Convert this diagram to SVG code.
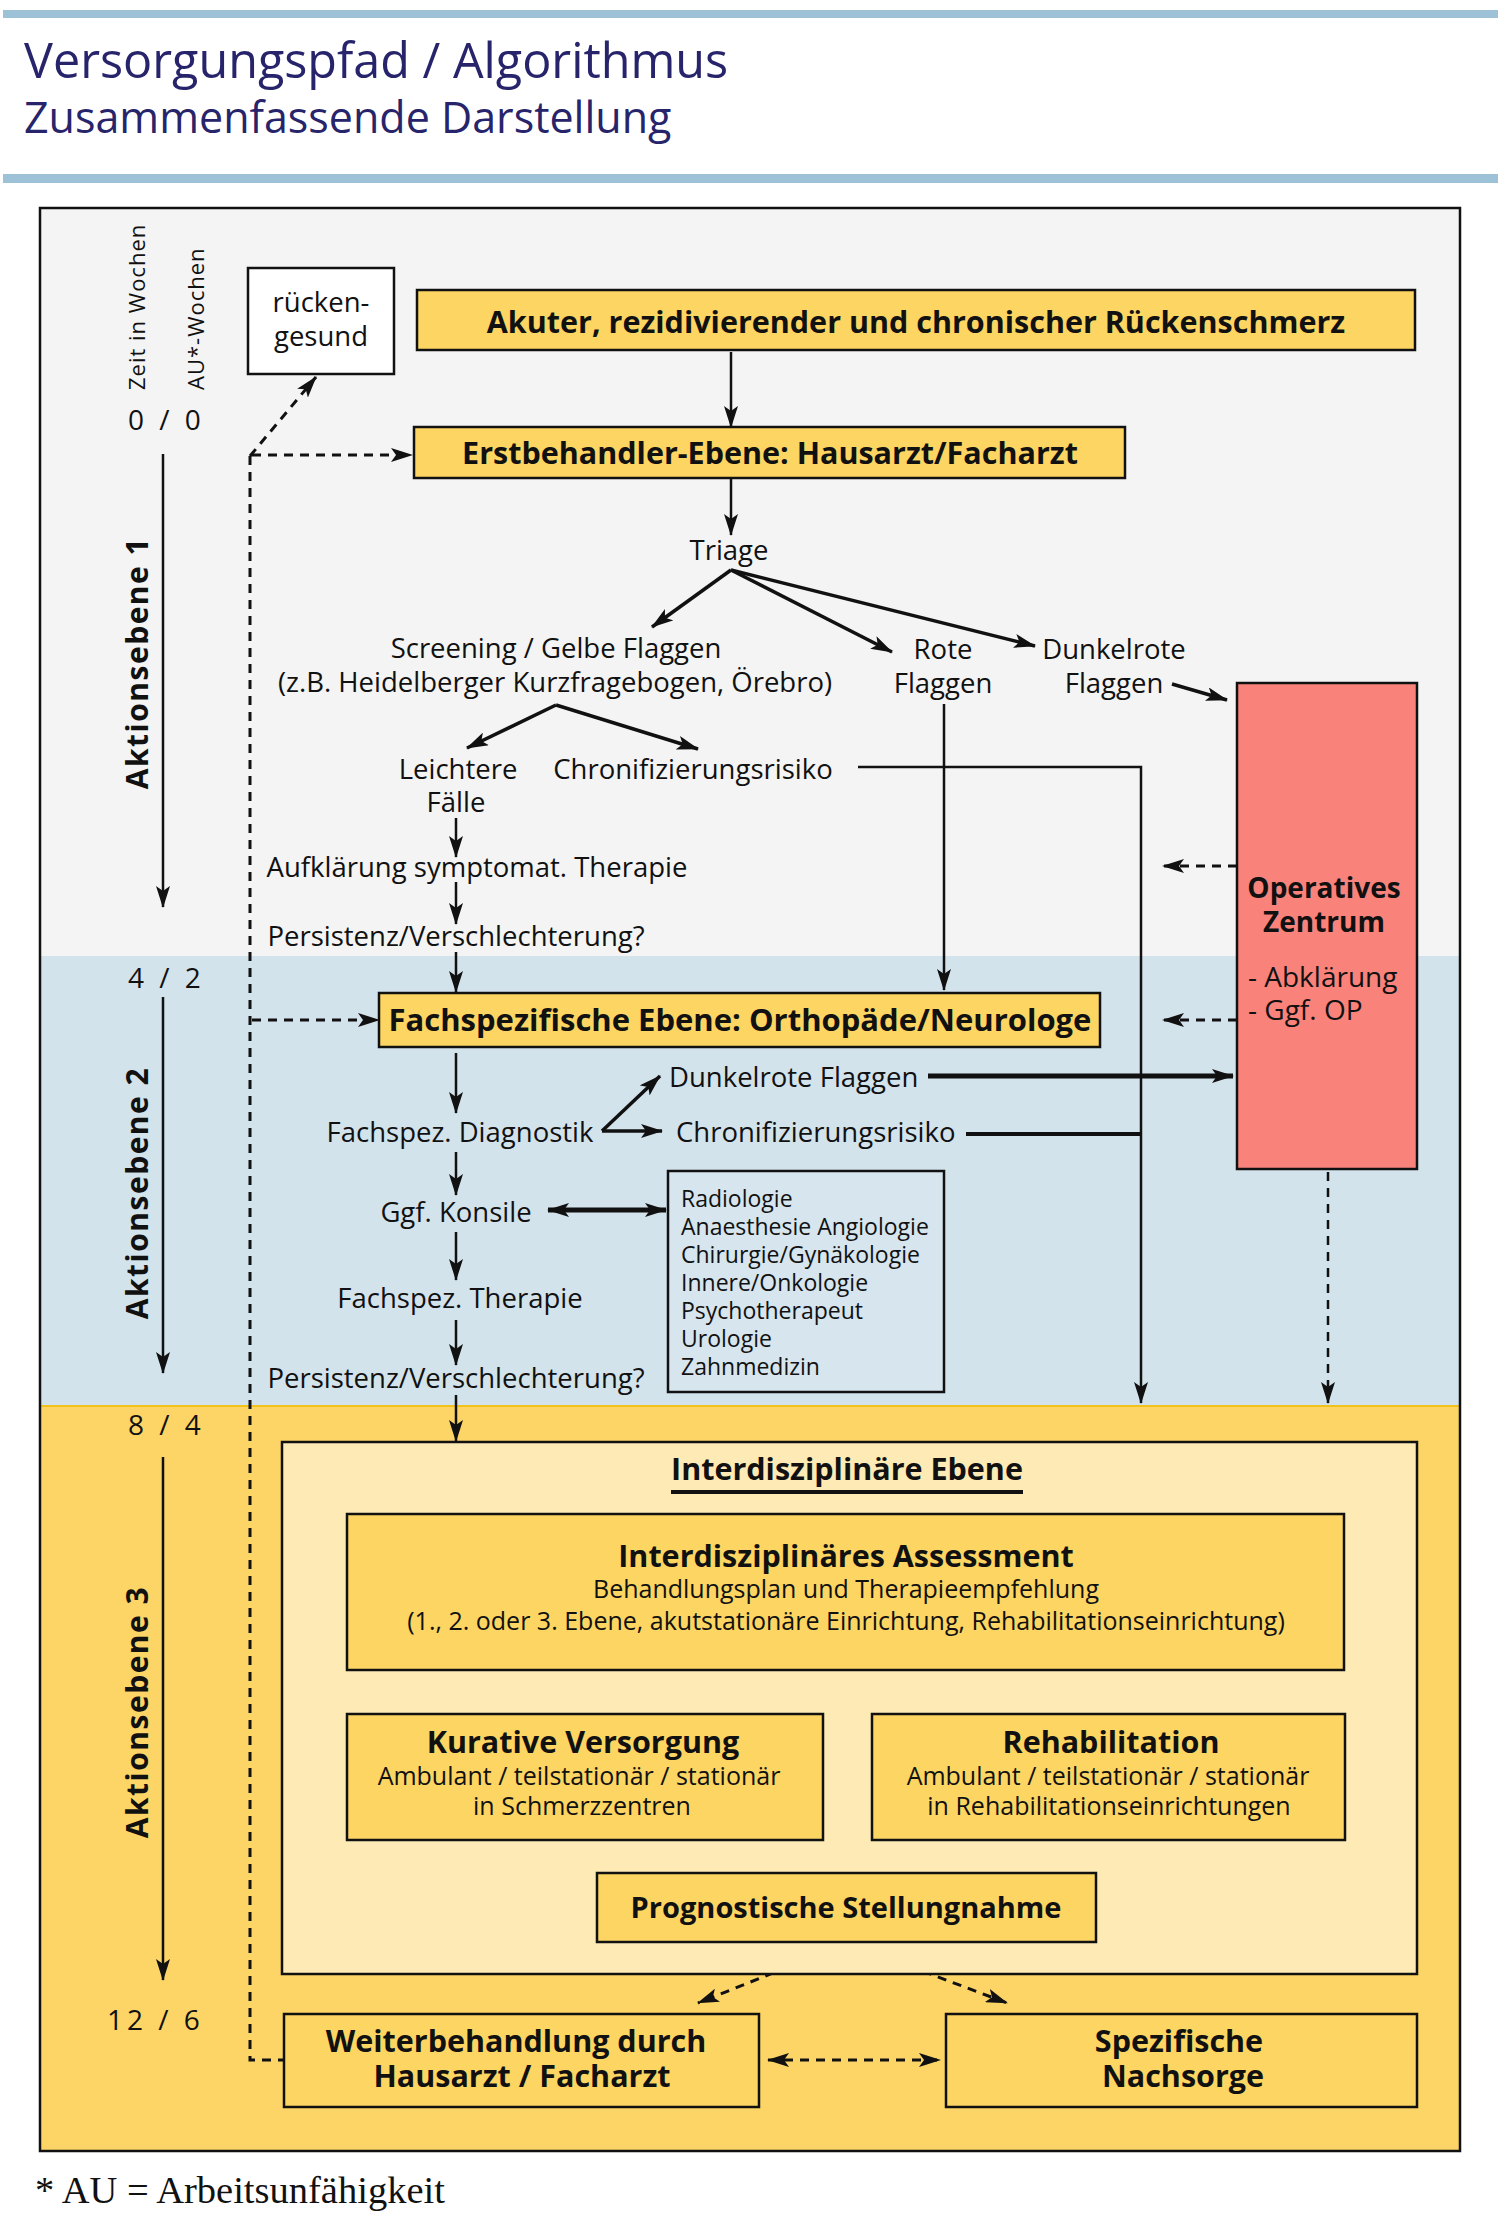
<svg xmlns="http://www.w3.org/2000/svg" width="1500" height="2219" viewBox="0 0 1500 2219">
<defs>
<style>
text{font-family:"Open Sans","Noto Sans",sans-serif;fill:#111}
.r{font-size:27.5px}
.i{font-size:25px}
.b{font-size:30.5px;font-weight:bold}
.s{font-size:23px}
.n{font-size:28px;letter-spacing:4px}
.ax{font-size:30px;font-weight:bold;letter-spacing:1.5px}
.v{font-size:22px;letter-spacing:1px}
.box{stroke:#111;stroke-width:2.5}
.y{fill:#FCD562}
.ln{fill:none;stroke:#111;stroke-width:2.5}
.th{fill:none;stroke:#111;stroke-width:3.5}
.dz{fill:none;stroke:#111;stroke-width:3;stroke-dasharray:9 7}
</style>
<marker id="a" markerWidth="22" markerHeight="14" refX="21" refY="7" orient="auto" markerUnits="userSpaceOnUse"><path d="M0,0 L22,7 L0,14 L5,7 z" fill="#111"/></marker>
<marker id="as" markerWidth="22" markerHeight="14" refX="21" refY="7" orient="auto-start-reverse" markerUnits="userSpaceOnUse"><path d="M0,0 L22,7 L0,14 L5,7 z" fill="#111"/></marker>
</defs>
<rect x="0" y="0" width="1500" height="2219" fill="#fff"/>
<g id="header">
<rect x="3" y="10" width="1495" height="8" fill="#9DC1D6"/>
<rect x="3" y="174" width="1495" height="9" fill="#9DC1D6"/>
<text x="24" y="78" style="font-size:48.5px;fill:#27246B;font-weight:500">Versorgungspfad / Algorithmus</text>
<text x="24" y="133" style="font-size:43px;fill:#27246B">Zusammenfassende Darstellung</text>
</g>
<g id="background">
<rect x="40" y="208" width="1420" height="748" fill="#F4F4F4"/>
<rect x="40" y="956" width="1420" height="449" fill="#D3E3EC"/>
<rect x="40" y="1405" width="1420" height="746" fill="#FDD566"/>
<line x1="40" y1="1406" x2="1460" y2="1406" stroke="#F2C21C" stroke-width="2"/>
<rect x="40" y="208" width="1420" height="1943" fill="none" stroke="#111" stroke-width="2.5"/>
</g>
<g id="timeline">
<text class="v" transform="translate(145,390) rotate(-90)">Zeit in Wochen</text>
<text class="v" transform="translate(204,390) rotate(-90)">AU*-Wochen</text>
<text class="n" x="128" y="430">0 / 0</text>
<text class="n" x="128" y="988">4 / 2</text>
<text class="n" x="128" y="1435">8 / 4</text>
<text class="n" x="107" y="2030">12 / 6</text>
<text class="ax" text-anchor="middle" transform="translate(148,663) rotate(-90)">Aktionsebene 1</text>
<text class="ax" text-anchor="middle" transform="translate(148,1193) rotate(-90)">Aktionsebene 2</text>
<text class="ax" text-anchor="middle" transform="translate(148,1712) rotate(-90)">Aktionsebene 3</text>
</g>
<g id="connectors">
<path class="ln" d="M163,454 V907" marker-end="url(#a)"/>
<path class="ln" d="M163,997 V1373" marker-end="url(#a)"/>
<path class="ln" d="M163,1457 V1980" marker-end="url(#a)"/>
<path class="ln" d="M731,352 V427" marker-end="url(#a)"/>
<path class="ln" d="M731,479 V535" marker-end="url(#a)"/>
<path class="th" d="M731,570 L652,627" marker-end="url(#a)"/>
<path class="th" d="M731,570 L892,652" marker-end="url(#a)"/>
<path class="th" d="M731,570 L1035,646" marker-end="url(#a)"/>
<path class="th" d="M1172,684 L1227,700" marker-end="url(#a)"/>
<path class="th" d="M556,705 L467,748" marker-end="url(#a)"/>
<path class="th" d="M556,705 L698,749" marker-end="url(#a)"/>
<path class="ln" d="M456,818 V857" marker-end="url(#a)"/>
<path class="ln" d="M456,882 V924" marker-end="url(#a)"/>
<path class="ln" d="M456,952 V992" marker-end="url(#a)"/>
<path class="ln" d="M944,704 V990" marker-end="url(#a)"/>
<path class="ln" d="M858,767 H1141 V1403" marker-end="url(#a)"/>
<path class="dz" d="M1237,866 H1163" marker-end="url(#a)"/>
<path class="dz" d="M1237,1020 H1163" marker-end="url(#a)"/>
<path class="dz" d="M252,455 H412" marker-end="url(#a)"/>
<path class="dz" d="M252,1020 H379" marker-end="url(#a)"/>
<path class="dz" d="M250,456 V2060 H284"/>
<path class="dz" d="M250,456 L316,377" marker-end="url(#a)"/>
<path class="ln" d="M456,1053 V1113" marker-end="url(#a)"/>
<path class="th" d="M602,1131 L660,1076" marker-end="url(#a)"/>
<path class="th" d="M602,1131 H662" marker-end="url(#a)"/>
<path fill="none" stroke="#111" stroke-width="5" d="M928,1076 H1233" marker-end="url(#a)"/>
<path fill="none" stroke="#111" stroke-width="4" d="M966,1134 H1141"/>
<path class="ln" d="M456,1152 V1195" marker-end="url(#a)"/>
<path fill="none" stroke="#111" stroke-width="5" d="M548,1210 H666" marker-start="url(#as)" marker-end="url(#as)"/>
<path class="ln" d="M456,1232 V1280" marker-end="url(#a)"/>
<path class="ln" d="M456,1320 V1365" marker-end="url(#a)"/>
<path class="ln" d="M456,1395 V1441" marker-end="url(#a)"/>
<path class="dz" d="M1328,1172 V1403" marker-end="url(#a)" style="stroke-width:2.5"/>
<path class="th" d="M847,1672 L642,1713" marker-end="url(#a)"/>
<path class="th" d="M847,1672 L1055,1713" marker-end="url(#a)"/>
<path class="dz" d="M688,1840 L753,1873" marker-end="url(#a)"/>
<path class="dz" d="M1000,1840 L935,1873" marker-end="url(#a)"/>
<path class="dz" d="M848,1943 L698,2003" marker-end="url(#a)"/>
<path class="dz" d="M848,1943 L1007,2003" marker-end="url(#a)"/>
<path class="dz" d="M768,2060 H940" marker-start="url(#as)" marker-end="url(#as)"/>
</g>
<g id="n-ruecken">
<rect class="box" x="248" y="268" width="146" height="106" fill="#fff"/>
<text class="r" x="321" y="312" text-anchor="middle">rücken-</text>
<text class="r" x="321" y="346" text-anchor="middle">gesund</text>
</g>
<g id="n-akuter">
<rect class="box y" x="417" y="290" width="998" height="60"/>
<text class="b" x="916" y="333" text-anchor="middle">Akuter, rezidivierender und chronischer Rückenschmerz</text>
</g>
<g id="n-erst">
<rect class="box y" x="414" y="427" width="711" height="51"/>
<text class="b" x="770" y="464" text-anchor="middle">Erstbehandler-Ebene: Hausarzt/Facharzt</text>
</g>
<g id="n-triage"><text class="r" x="729" y="560" text-anchor="middle">Triage</text></g>
<g id="n-screening">
<text class="r" x="556" y="658" text-anchor="middle">Screening / Gelbe Flaggen</text>
<text class="r" x="555" y="692" text-anchor="middle">(z.B. Heidelberger Kurzfragebogen, Örebro)</text>
</g>
<g id="n-rote">
<text class="r" x="943" y="659" text-anchor="middle">Rote</text>
<text class="r" x="943" y="693" text-anchor="middle">Flaggen</text>
</g>
<g id="n-dunkelrote1">
<text class="r" x="1114" y="659" text-anchor="middle">Dunkelrote</text>
<text class="r" x="1114" y="693" text-anchor="middle">Flaggen</text>
</g>
<g id="n-leichtere">
<text class="r" x="458" y="779" text-anchor="middle">Leichtere</text>
<text class="r" x="456" y="812" text-anchor="middle">Fälle</text>
</g>
<g id="n-chron1"><text class="r" x="693" y="779" text-anchor="middle">Chronifizierungsrisiko</text></g>
<g id="n-aufkl"><text class="r" x="477" y="877" text-anchor="middle">Aufklärung symptomat. Therapie</text></g>
<g id="n-pers1"><text class="r" x="456" y="946" text-anchor="middle">Persistenz/Verschlechterung?</text></g>
<g id="n-op">
<rect class="box" x="1237" y="683" width="180" height="486" fill="#F9837B"/>
<text class="b" x="1324" y="898" text-anchor="middle" style="font-size:28px">Operatives</text>
<text class="b" x="1324" y="932" text-anchor="middle" style="font-size:28px">Zentrum</text>
<text class="r" x="1248" y="987" style="font-size:28px">- Abklärung</text>
<text class="r" x="1248" y="1020" style="font-size:28px">- Ggf. OP</text>
</g>
<g id="n-fach">
<rect class="box y" x="379" y="993" width="721" height="54"/>
<text class="b" x="740" y="1031" text-anchor="middle" style="font-size:31px">Fachspezifische Ebene: Orthopäde/Neurologe</text>
</g>
<g id="n-dunkelrote2"><text class="r" x="669" y="1087">Dunkelrote Flaggen</text></g>
<g id="n-diag"><text class="r" x="460" y="1142" text-anchor="middle">Fachspez. Diagnostik</text></g>
<g id="n-chron2"><text class="r" x="676" y="1142">Chronifizierungsrisiko</text></g>
<g id="n-konsile"><text class="r" x="456" y="1222" text-anchor="middle">Ggf. Konsile</text></g>
<g id="n-liste">
<rect class="box" x="668" y="1171" width="276" height="221" fill="#D6E5EE"/>
<text class="s" x="681" y="1207">Radiologie</text>
<text class="s" x="681" y="1235">Anaesthesie Angiologie</text>
<text class="s" x="681" y="1263">Chirurgie/Gynäkologie</text>
<text class="s" x="681" y="1291">Innere/Onkologie</text>
<text class="s" x="681" y="1319">Psychotherapeut</text>
<text class="s" x="681" y="1347">Urologie</text>
<text class="s" x="681" y="1375">Zahnmedizin</text>
</g>
<g id="n-therapie"><text class="r" x="460" y="1308" text-anchor="middle">Fachspez. Therapie</text></g>
<g id="n-pers2"><text class="r" x="456" y="1388" text-anchor="middle">Persistenz/Verschlechterung?</text></g>
<g id="n-inter">
<rect class="box" x="282" y="1442" width="1135" height="532" fill="#FDEAB4"/>
<text class="b" x="847" y="1480" text-anchor="middle">Interdisziplinäre Ebene</text>
<line x1="671" y1="1492" x2="1023" y2="1492" stroke="#111" stroke-width="4"/>
</g>
<g id="n-assess">
<rect class="box y" x="347" y="1514" width="997" height="156"/>
<text class="b" x="846" y="1567" text-anchor="middle">Interdisziplinäres Assessment</text>
<text class="i" x="846" y="1598" text-anchor="middle">Behandlungsplan und Therapieempfehlung</text>
<text class="i" x="846" y="1630" text-anchor="middle">(1., 2. oder 3. Ebene, akutstationäre Einrichtung, Rehabilitationseinrichtung)</text>
</g>
<g id="n-kurativ">
<rect class="box y" x="347" y="1714" width="476" height="126"/>
<text class="b" x="583" y="1753" text-anchor="middle">Kurative Versorgung</text>
<text class="i" x="579" y="1785" text-anchor="middle">Ambulant / teilstationär / stationär</text>
<text class="i" x="582" y="1815" text-anchor="middle">in Schmerzzentren</text>
</g>
<g id="n-reha">
<rect class="box y" x="872" y="1714" width="473" height="126"/>
<text class="b" x="1111" y="1753" text-anchor="middle">Rehabilitation</text>
<text class="i" x="1108" y="1785" text-anchor="middle">Ambulant / teilstationär / stationär</text>
<text class="i" x="1109" y="1815" text-anchor="middle">in Rehabilitationseinrichtungen</text>
</g>
<g id="n-prog">
<rect class="box y" x="597" y="1873" width="499" height="69"/>
<text class="b" x="846" y="1918" text-anchor="middle" style="font-size:29px">Prognostische Stellungnahme</text>
</g>
<g id="n-weiter">
<rect class="box y" x="284" y="2014" width="475" height="93"/>
<text class="b" x="516" y="2052" text-anchor="middle">Weiterbehandlung durch</text>
<text class="b" x="522" y="2087" text-anchor="middle">Hausarzt / Facharzt</text>
</g>
<g id="n-spez">
<rect class="box y" x="946" y="2014" width="471" height="93"/>
<text class="b" x="1179" y="2052" text-anchor="middle">Spezifische</text>
<text class="b" x="1183" y="2087" text-anchor="middle">Nachsorge</text>
</g>
<g id="footnote">
<text x="35" y="2203" style="font-family:'Liberation Serif',serif;font-size:38.5px">* AU = Arbeitsunfähigkeit</text>
</g>
</svg>
